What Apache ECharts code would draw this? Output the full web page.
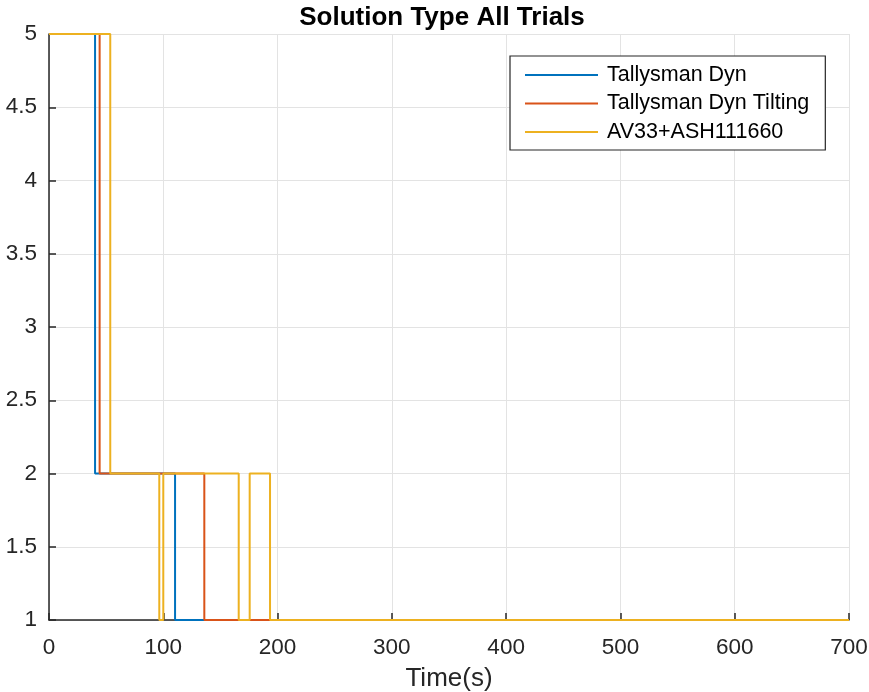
<!DOCTYPE html>
<html>
<head>
<meta charset="utf-8">
<script src="https://cdn.jsdelivr.net/npm/echarts@6/dist/echarts.min.js"></script>
<style>html,body{margin:0;padding:0;background:#fff}#c{width:869px;height:692px}</style>
</head>
<body>
<div id="c"></div>
<script>
// Step-change times (s) and the solution type held from that time on
const seriesNames = ['Tallysman Dyn', 'Tallysman Dyn Tilting', 'AV33+ASH111660'];
const blueTimes = [0, 40.3, 110.3, 700];
const blueValues = [5, 2, 1, 1];
const redTimes = [0, 44.3, 135.9, 700];
const redValues = [5, 2, 1, 1];
const yellowTimes = [0, 53.6, 96.5, 100.0, 166.0, 175.6, 193.4, 700];
const yellowValues = [5, 2, 1, 2, 1, 2, 1, 1];
const xTicks = [0, 100, 200, 300, 400, 500, 600, 700];
const yTicks = [1, 1.5, 2, 2.5, 3, 3.5, 4, 4.5, 5];
const colors = ['#0072BD', '#D95319', '#EDB120'];

function pairs(t, v) { return t.map((x, i) => [x, v[i]]); }
const dataSets = [pairs(blueTimes, blueValues), pairs(redTimes, redValues), pairs(yellowTimes, yellowValues)];

const font = 'Liberation Sans, Arial, sans-serif';
const chart = echarts.init(document.getElementById('c'), null, {renderer: 'canvas'});
chart.setOption({
  animation: false,
  backgroundColor: '#ffffff',
  title: {
    text: 'Solution Type All Trials',
    left: 437, top: 0, textAlign: 'center',
    textStyle: {fontFamily: font, fontSize: 26, fontWeight: 'bold', color: '#000'}
  },
  grid: {left: 49, right: 20, top: 34, bottom: 72, containLabel: false, outerBoundsMode: 'none'},
  legend: {
    orient: 'vertical',
    left: 510, top: 56,
    padding: [8, 16, 7, 15],
    itemGap: 6.5,
    itemWidth: 73, itemHeight: 2,
    icon: 'rect',
    borderColor: '#262626', borderWidth: 1.2,
    backgroundColor: '#fff',
    textStyle: {fontFamily: font, fontSize: 21.5, color: '#000', padding: [0, 0, 0, 4], lineHeight: 22},
    data: seriesNames
  },
  xAxis: {
    type: 'value', min: xTicks[0], max: xTicks[xTicks.length - 1], interval: 100,
    name: 'Time(s)', nameLocation: 'middle', nameGap: 46,
    nameTextStyle: {fontFamily: font, fontSize: 26, color: '#262626'},
    axisLine: {show: true, lineStyle: {color: '#262626', width: 1.5}},
    axisTick: {show: true, inside: true, length: 7, lineStyle: {color: '#262626', width: 1.5}},
    axisLabel: {fontFamily: font, fontSize: 22.5, color: '#262626', margin: 16},
    splitLine: {show: true, lineStyle: {color: '#e3e3e3', width: 1}}
  },
  yAxis: {
    type: 'value', min: 1, max: 5, interval: 0.5,
    axisLine: {show: true, lineStyle: {color: '#262626', width: 1.5}},
    axisTick: {show: true, inside: true, length: 7, lineStyle: {color: '#262626', width: 1.5}},
    axisLabel: {fontFamily: font, fontSize: 22.5, color: '#262626', margin: 12},
    splitLine: {show: true, lineStyle: {color: '#e3e3e3', width: 1}}
  },
  series: seriesNames.map((n, i) => ({
    name: n, type: 'line', step: 'end', symbol: 'none', showSymbol: false,
    data: dataSets[i], color: colors[i],
    lineStyle: {color: colors[i], width: 2}, z: 3 + i
  }))
});
</script>
</body>
</html>
